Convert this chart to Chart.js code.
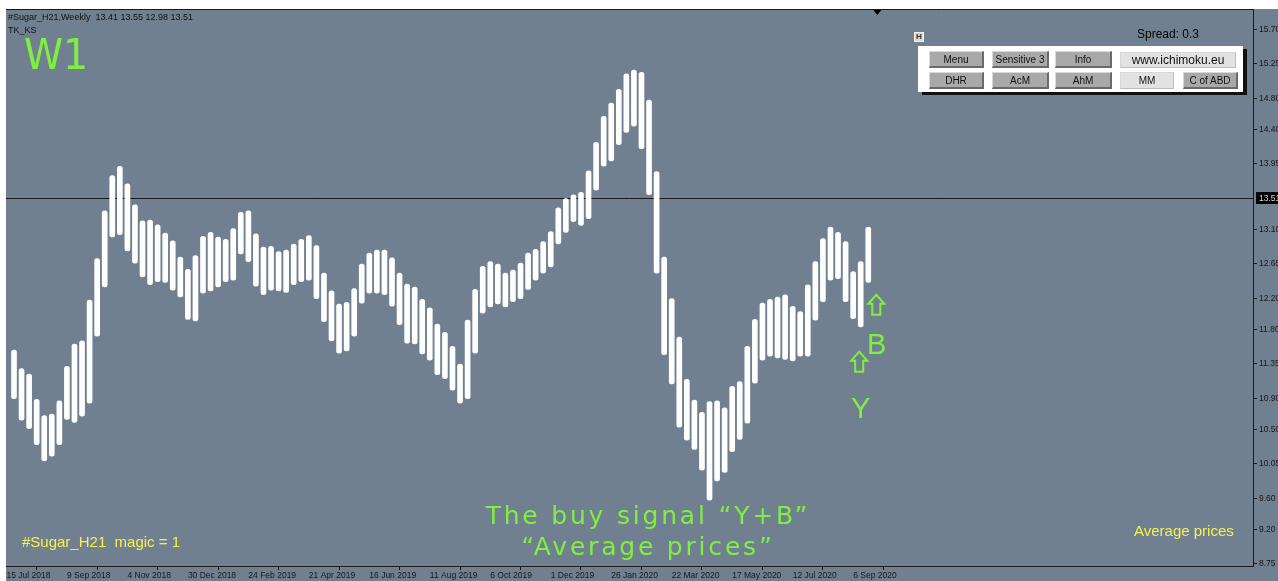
<!DOCTYPE html>
<html><head><meta charset="utf-8">
<script src="https://cdn.jsdelivr.net/npm/chart.js@4.4.1/dist/chart.umd.min.js"></script>
<style>
html,body{margin:0;padding:0;background:#ffffff;width:1278px;height:581px;overflow:hidden;position:relative;font-family:"Liberation Sans",Arial,sans-serif;}
#c{position:absolute;left:6px;top:9px;background:#708090;}
.t{position:absolute;white-space:nowrap;line-height:1;}
.g{color:#80f040;font-family:"DejaVu Sans",sans-serif;}
.y{color:#f2f250;font-size:15px;}
#panel{position:absolute;left:918px;top:46px;width:325px;height:46px;background:#ffffff;box-shadow:4px 3px 0 #111;}
.btn{position:absolute;box-sizing:border-box;background:#a9a9a9;border-top:1px solid #d8d8d8;border-left:1px solid #d8d8d8;border-right:2px solid #6a6a6a;border-bottom:2px solid #6a6a6a;font-size:10px;color:#111;text-align:center;}
.lt{background:#e2e2e2;border-right:1px solid #bdbdbd;border-bottom:1px solid #bdbdbd;}
#hbox{position:absolute;left:914px;top:32px;width:10px;height:10px;box-sizing:border-box;background:#d8d8d8;border:1px solid #f4f4f4;font-size:8px;font-weight:bold;color:#333;text-align:center;line-height:8px;}
</style></head><body>
<canvas id="c" width="1272" height="572"></canvas>

<div class="t" style="left:8px;top:13px;font-size:9px;color:#111">#Sugar_H21,Weekly&nbsp;&nbsp;13.41 13.55 12.98 13.51</div>
<div class="t" style="left:8px;top:26px;font-size:9px;color:#111">TK_KS</div>
<div class="t g" style="left:24px;top:33px;font-size:43px;transform:scaleX(0.92);transform-origin:left top;">W1</div>

<div class="t g" style="left:0;width:1296px;text-align:center;top:503px;font-size:25px;letter-spacing:2.8px;">The buy signal “Y+B”</div>
<div class="t g" style="left:0;width:1296px;text-align:center;top:534px;font-size:25px;letter-spacing:2.8px;">“Average prices”</div>

<div class="t y" style="left:22px;top:534px;">#Sugar_H21&nbsp; magic = 1</div>
<div class="t y" style="left:1134px;top:523px;">Average prices</div>
<div class="t" style="left:1137px;top:28px;font-size:12px;color:#000;">Spread: 0.3</div>

<div id="hbox">H</div>
<div id="panel">
  <div class="btn" style="left:11px;top:5px;width:55px;height:17px;line-height:15px;">Menu</div>
  <div class="btn" style="left:74px;top:5px;width:57px;height:17px;line-height:15px;">Sensitive 3</div>
  <div class="btn" style="left:137px;top:5px;width:57px;height:17px;line-height:15px;">Info</div>
  <div class="btn lt" style="left:202px;top:6px;width:116px;height:16px;line-height:15px;font-size:12px;">www.ichimoku.eu</div>
  <div class="btn" style="left:11px;top:26px;width:55px;height:17px;line-height:15px;">DHR</div>
  <div class="btn" style="left:74px;top:26px;width:57px;height:17px;line-height:15px;">AcM</div>
  <div class="btn" style="left:137px;top:26px;width:57px;height:17px;line-height:15px;">AhM</div>
  <div class="btn lt" style="left:202px;top:26px;width:54px;height:17px;line-height:15px;">MM</div>
  <div class="btn" style="left:265px;top:26px;width:55px;height:17px;line-height:15px;">C of ABD</div>
</div>

<script>
// ---- data (weekly "average price" bars, Sugar_H21) ----
const barHigh = [11.53,11.29,11.22,10.89,10.68,10.70,10.87,11.32,11.61,11.65,
  12.18,12.72,13.34,13.80,13.92,13.69,13.42,13.21,13.22,13.16,
  13.05,12.95,12.74,12.58,12.76,13.01,13.06,13.00,12.97,13.11,
  13.32,13.34,13.04,12.87,12.88,12.81,12.83,12.91,12.97,13.02,
  12.89,12.53,12.30,12.13,12.15,12.33,12.65,12.79,12.83,12.83,
  12.73,12.53,12.39,12.35,12.19,12.08,11.87,11.76,11.58,11.35,
  11.92,12.32,12.62,12.68,12.65,12.53,12.57,12.66,12.79,12.84,
  12.94,13.07,13.38,13.50,13.55,13.58,13.86,14.23,14.57,14.74,
  14.92,15.12,15.17,15.14,14.78,13.85,12.74,12.20,11.70,11.15,
  10.88,10.72,10.86,10.87,10.78,11.06,11.12,11.58,11.93,12.14,
  12.19,12.22,12.25,12.10,12.03,12.38,12.68,12.98,13.13,13.06,
  12.94,12.55,12.68,13.13];
const barLow = [10.90,10.62,10.51,10.30,10.09,10.15,10.30,10.63,10.59,10.67,
  10.84,11.71,12.35,13.00,13.03,12.82,12.66,12.48,12.38,12.42,
  12.41,12.31,12.22,11.93,11.91,12.27,12.30,12.35,12.42,12.44,
  12.78,12.68,12.36,12.25,12.31,12.30,12.28,12.38,12.42,12.44,
  12.20,11.90,11.65,11.49,11.52,11.71,12.14,12.27,12.27,12.25,
  12.10,11.86,11.62,11.61,11.48,11.40,11.21,11.16,11.01,10.84,
  10.90,11.49,12.01,12.09,12.13,12.09,12.16,12.20,12.32,12.44,
  12.53,12.61,12.91,13.06,13.20,13.15,13.24,13.61,13.92,13.99,
  14.20,14.36,14.44,14.15,13.55,12.53,11.47,11.09,10.53,10.36,
  10.24,9.97,9.58,9.83,9.94,10.21,10.37,10.58,11.10,11.40,
  11.45,11.43,11.41,11.39,11.45,11.45,11.92,12.16,12.44,12.46,
  12.16,11.94,11.83,12.41];
const dateLabels = ['15 Jul 2018','9 Sep 2018','4 Nov 2018','30 Dec 2018','24 Feb 2019','21 Apr 2019',
  '16 Jun 2019','11 Aug 2019','6 Oct 2019','1 Dec 2019','26 Jan 2020','22 Mar 2020',
  '17 May 2020','12 Jul 2020','6 Sep 2020'];
const dateTickIndex = [-1,7,15,23,31,39,47,55,63,71,79,87,95,103,111];
const priceTicks = [15.70,15.25,14.80,14.40,13.95,13.10,12.65,12.20,11.80,11.35,10.90,10.50,10.05,9.60,9.20,8.75];
const currentPrice = 13.51;
const signalArrows = [{idx:111.8, price:11.38},{idx:114.06, price:12.12}];
const signalLetters = [{text:'Y', idx:112.0, price:10.77},{text:'B', idx:114.1, price:11.60}];

const bars = barHigh.map((h,i)=>({x:i, y:[barLow[i], h]}));
const GREEN = '#80f040';
const AXIS = '#1a1a1a';

const overlay = {
  id:'overlay',
  beforeDatasetsDraw(chart){
    const {ctx, chartArea:a, scales:{y}} = chart;
    const py = Math.round(y.getPixelForValue(currentPrice)) + 0.5;
    ctx.save();
    ctx.strokeStyle = AXIS; ctx.lineWidth = 1;
    ctx.beginPath(); ctx.moveTo(a.left, py); ctx.lineTo(a.right, py); ctx.stroke();
    ctx.beginPath(); ctx.moveTo(a.left, a.top + 0.5); ctx.lineTo(a.right + 0.5, a.top + 0.5); ctx.stroke();
    ctx.restore();
  },
  afterDraw(chart){
    const {ctx, chartArea:a, scales:{x, y}} = chart;
    ctx.save();
    const py = Math.round(y.getPixelForValue(currentPrice));
    ctx.fillStyle = '#000';
    ctx.fillRect(a.right + 3, py - 6, 30, 12);
    ctx.fillStyle = '#d8d8d8';
    ctx.font = '8.5px "Liberation Sans", Arial, sans-serif';
    ctx.textBaseline = 'middle'; ctx.textAlign = 'left';
    ctx.fillText(currentPrice.toFixed(2), a.right + 6, py + 0.5);
    const tx = x.getPixelForValue(barHigh.length + 0.2);
    ctx.fillStyle = '#000';
    ctx.beginPath(); ctx.moveTo(tx - 4, a.top + 1); ctx.lineTo(tx + 4, a.top + 1); ctx.lineTo(tx, a.top + 6); ctx.closePath(); ctx.fill();
    ctx.strokeStyle = GREEN; ctx.lineWidth = 2; ctx.lineJoin = 'miter';
    signalArrows.forEach(s => {
      const cx = x.getPixelForValue(s.idx), cy = y.getPixelForValue(s.price);
      const top = cy - 10, bot = cy + 10, hw = 8, sw = 4, hh = 9;
      ctx.beginPath();
      ctx.moveTo(cx, top);
      ctx.lineTo(cx + hw, top + hh); ctx.lineTo(cx + sw, top + hh); ctx.lineTo(cx + sw, bot);
      ctx.lineTo(cx - sw, bot); ctx.lineTo(cx - sw, top + hh); ctx.lineTo(cx - hw, top + hh);
      ctx.closePath(); ctx.stroke();
    });
    ctx.fillStyle = GREEN; ctx.font = '29px "Liberation Sans", Arial, sans-serif';
    ctx.textAlign = 'center'; ctx.textBaseline = 'middle';
    signalLetters.forEach(s => {
      ctx.fillText(s.text, x.getPixelForValue(s.idx), y.getPixelForValue(s.price) + 1);
    });
    ctx.restore();
  }
};

new Chart(document.getElementById('c'), {
  type:'bar',
  data:{ datasets:[{
    data: bars,
    backgroundColor:'#ffffff',
    borderWidth:0,
    borderRadius:2.5,
    borderSkipped:false,
    barThickness:5
  }]},
  options:{
    responsive:false,
    animation:false,
    devicePixelRatio:1,
    layout:{padding:0},
    plugins:{legend:{display:false}, tooltip:{enabled:false}},
    scales:{
      x:{
        type:'linear', offset:false,
        min:-1.058, max:163.89,
        afterFit(s){ s.height = 15; s.paddingLeft = 0; s.paddingRight = 0; s.paddingTop = 0; s.paddingBottom = 0; },
        afterBuildTicks(s){ s.ticks = dateTickIndex.map(v=>({value:v})); },
        grid:{drawOnChartArea:false, drawTicks:true, tickLength:4, color:AXIS},
        border:{display:true, color:AXIS},
        ticks:{
          autoSkip:false, maxRotation:0, minRotation:0, align:'start', padding:1,
          color:'#161616', font:{family:'"Liberation Sans", Arial, sans-serif', size:8.5},
          callback(v){ const k = dateTickIndex.indexOf(v); return k >= 0 ? dateLabels[k] : ''; }
        }
      },
      y:{
        type:'linear', position:'right',
        min:8.724, max:15.964,
        afterFit(s){ s.width = 25; s.paddingTop = 0; s.paddingBottom = 0; s.paddingLeft = 0; s.paddingRight = 0; },
        afterBuildTicks(s){ s.ticks = priceTicks.map(v=>({value:v})); },
        grid:{drawOnChartArea:false, drawTicks:true, tickLength:4, color:AXIS},
        border:{display:true, color:AXIS},
        ticks:{
          padding:2, color:'#161616',
          font:{family:'"Liberation Sans", Arial, sans-serif', size:8.5},
          callback(v){ return Number(v).toFixed(2); }
        }
      }
    }
  },
  plugins:[overlay]
});
</script>
</body></html>
